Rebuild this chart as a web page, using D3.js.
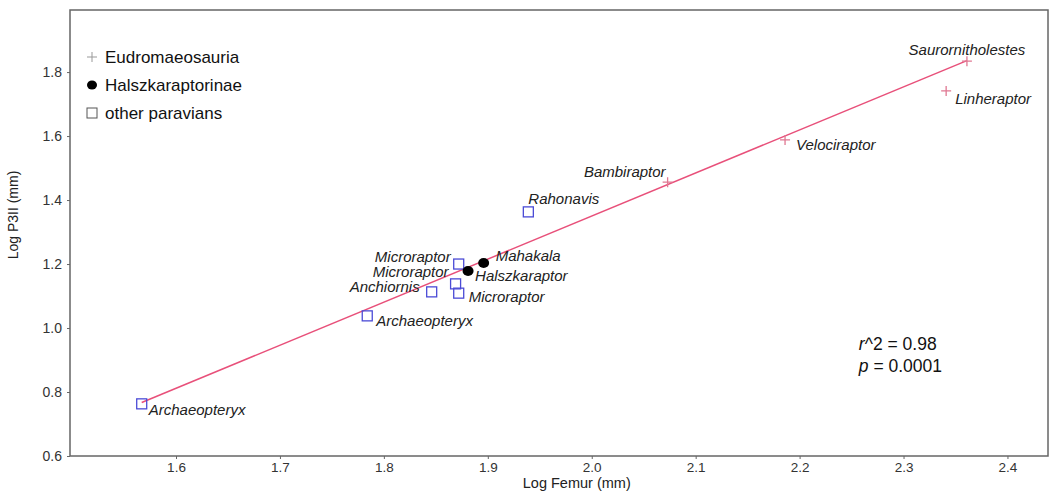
<!DOCTYPE html>
<html>
<head>
<meta charset="utf-8">
<script src="https://cdn.jsdelivr.net/npm/d3@7"></script>
<style>
  body { margin: 0; background: #fff; }
  text { font-family: "Liberation Sans", Arial, sans-serif; }
</style>
</head>
<body>
<div id="chart"></div>
<script>
// taxa
const taxa = ["Archaeopteryx", "Archaeopteryx", "Anchiornis", "Microraptor", "Microraptor",
  "Microraptor", "Halszkaraptor", "Mahakala", "Rahonavis", "Bambiraptor", "Velociraptor",
  "Saurornitholestes", "Linheraptor"];
const groups = ["other", "other", "other", "other", "other", "other", "halsz", "halsz",
  "other", "eudro", "eudro", "eudro", "eudro"];
const logFemur = [1.567, 1.784, 1.846, 1.872, 1.869, 1.872, 1.881, 1.896, 1.939, 2.073, 2.186, 2.361, 2.341];
const logP3II = [0.763, 1.038, 1.113, 1.200, 1.138, 1.109, 1.178, 1.203, 1.363, 1.456, 1.588, 1.834, 1.741];

const xTicks = [1.6, 1.7, 1.8, 1.9, 2.0, 2.1, 2.2, 2.3, 2.4];
const yTicks = [0.6, 0.8, 1.0, 1.2, 1.4, 1.6, 1.8];

const legendGroups = ["eudro", "halsz", "other"];
const legendNames = ["Eudromaeosauria", "Halszkaraptorinae", "other paravians"];

// regression line as drawn
const fitSlope = 1.346;
const fitIntercept = -1.342;
const statsLines = ["r^2 = 0.98", "p = 0.0001"];

// label placement relative to each point: [dx, dy, anchor]
const labelPos = [[7, 11, "start"], [9, 10, "start"], [-12, 0, "end"], [-8, -2, "end"],
  [-7, -7, "end"], [10, 9, "start"], [7, 10, "start"], [12, -2, "start"], [0, -8, "start"],
  [-2, -5, "end"], [11, 10, "start"], [0, -6, "middle"], [9, 13, "start"]];

const W = 1052, H = 491;
const margin = { top: 10, right: 4, bottom: 35, left: 70 };
const width = W - margin.left - margin.right;
const height = H - margin.top - margin.bottom;

const svg = d3.select("#chart").append("svg")
  .attr("width", W).attr("height", H)
  .append("g")
  .attr("transform", `translate(${margin.left},${margin.top})`);

const x = d3.scaleLinear().domain([1.498, 2.439]).range([0, width]);
const y = d3.scaleLinear().domain([0.6, 1.994]).range([height, 0]);

const axisColor = "#666";

// frame
svg.append("rect")
  .attr("width", width).attr("height", height)
  .attr("fill", "none").attr("stroke", axisColor).attr("stroke-width", 1.5);

const xAxis = svg.append("g")
  .attr("transform", `translate(0,${height})`)
  .call(d3.axisBottom(x).tickValues(xTicks).tickFormat(d3.format(".1f")).tickSize(3).tickPadding(3));
const yAxis = svg.append("g")
  .call(d3.axisLeft(y).tickValues(yTicks).tickFormat(d3.format(".1f")).tickSize(3).tickPadding(5));
[xAxis, yAxis].forEach((a) => {
  a.select(".domain").remove();
  a.selectAll("line").attr("stroke", axisColor);
  a.selectAll("text").style("font-size", "14px").attr("fill", "#333");
});
xAxis.selectAll("text").style("font-size", "13.5px");

svg.append("text")
  .attr("x", x(2.0) - 15).attr("y", height + 32)
  .attr("text-anchor", "middle")
  .style("font-size", "14.5px").attr("fill", "#222")
  .text("Log Femur (mm)");

svg.append("text")
  .attr("transform", "rotate(-90)")
  .attr("x", -205).attr("y", -52)
  .attr("text-anchor", "middle")
  .style("font-size", "14px").attr("fill", "#222")
  .text("Log P3II (mm)");

// regression line over data extent
const [xMin, xMax] = d3.extent(logFemur);
svg.append("line")
  .attr("x1", x(xMin)).attr("y1", y(fitIntercept + fitSlope * xMin))
  .attr("x2", x(xMax)).attr("y2", y(fitIntercept + fitSlope * xMax))
  .attr("stroke", "#e8507a").attr("stroke-width", 1.5);

const squareColor = "#4b4bd6";
const plusColor = "#e07892";

function drawMarker(g, grp) {
  if (grp === "other") {
    g.append("rect").attr("x", -5).attr("y", -5).attr("width", 10).attr("height", 10)
      .attr("fill", "none").attr("stroke", squareColor).attr("stroke-width", 1.3);
  } else if (grp === "halsz") {
    g.append("ellipse").attr("rx", 5.5).attr("ry", 5).attr("fill", "#000");
  } else {
    g.append("path").attr("d", "M-5,0H5M0,-5V5")
      .attr("stroke", plusColor).attr("stroke-width", 1.3);
  }
}

const idx = d3.range(taxa.length);
const pts = svg.selectAll("g.pt").data(idx).join("g")
  .attr("class", "pt")
  .attr("transform", (i) => `translate(${x(logFemur[i])},${y(logP3II[i])})`);
pts.each(function (i) { drawMarker(d3.select(this), groups[i]); });

pts.append("text")
  .attr("x", (i) => labelPos[i][0])
  .attr("y", (i) => labelPos[i][1])
  .attr("text-anchor", (i) => labelPos[i][2])
  .style("font-size", "15px").style("font-style", "italic")
  .attr("fill", "#222")
  .text((i) => taxa[i]);

// legend
const leg = svg.selectAll("g.leg").data(legendGroups).join("g")
  .attr("class", "leg")
  .attr("transform", (d, i) => `translate(22,${47 + i * 28})`);
leg.each(function (d) {
  const g = d3.select(this);
  if (d === "eudro") {
    g.append("path").attr("d", "M-5,0H5M0,-5V5").attr("stroke", "#999").attr("stroke-width", 1);
  } else if (d === "halsz") {
    g.append("ellipse").attr("rx", 5).attr("ry", 4.5).attr("fill", "#000");
  } else {
    g.append("rect").attr("x", -5).attr("y", -5).attr("width", 10).attr("height", 10)
      .attr("fill", "none").attr("stroke", "#555").attr("stroke-width", 1);
  }
});
leg.append("text")
  .attr("x", 13).attr("y", 6)
  .style("font-size", "17px").attr("fill", "#111")
  .text((d, i) => legendNames[i]);

// stats
const statsX = x(2.257);
const stats = svg.append("text")
  .attr("x", statsX).attr("y", y(0.93))
  .style("font-size", "17.5px").attr("fill", "#111");
statsLines.forEach((s, i) => {
  const t = stats.append("tspan").attr("x", statsX).attr("dy", i === 0 ? 0 : 22);
  t.append("tspan").style("font-style", "italic").text(s.slice(0, 1));
  t.append("tspan").text(s.slice(1));
});
</script>
</body>
</html>
